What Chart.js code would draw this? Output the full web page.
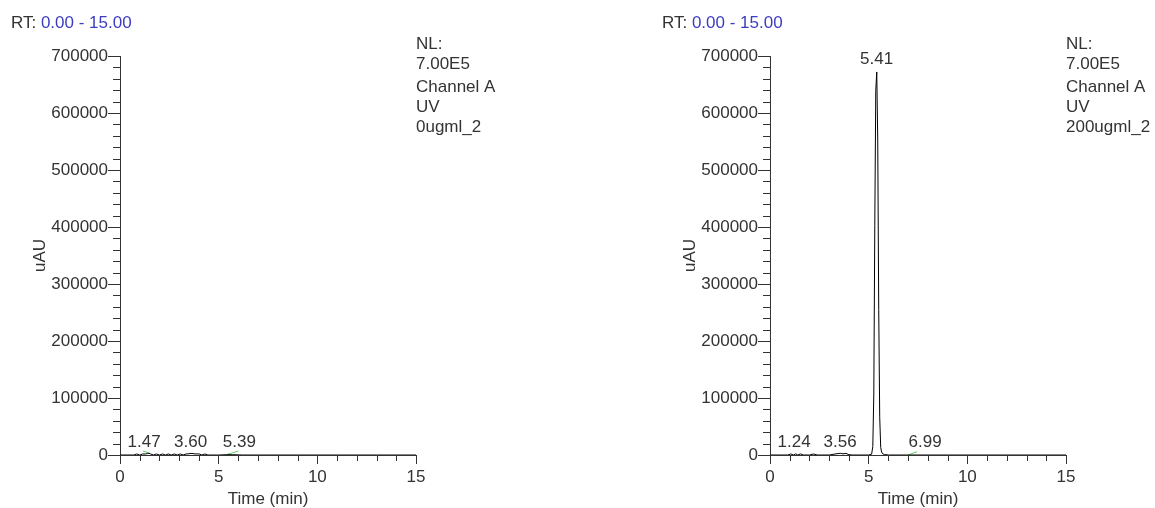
<!DOCTYPE html>
<html>
<head>
<meta charset="utf-8">
<script src="https://cdn.jsdelivr.net/npm/chart.js@4/dist/chart.umd.min.js"></script>
<style>
  html, body { margin: 0; padding: 0; background: #fff; overflow: hidden; }
  #wrap { position: relative; width: 1155px; height: 508px; }
  canvas { position: absolute; top: 0; }
  #c1 { left: 0; }
  #c2 { left: 650px; }
</style>
</head>
<body>
<div id="wrap">
  <canvas id="c1" width="505" height="508"></canvas>
  <canvas id="c2" width="505" height="508"></canvas>
</div>
<script>
// Osa X (čas, min) a osa Y (uAU)
const xTicks = [0, 5, 10, 15];
const yTicks = [0, 100000, 200000, 300000, 400000, 500000, 600000, 700000];
const xMinorStep = 1;
const yMinorStep = 20000;

// Vzorek 0ugml_2 - chromatogram
const time0 = [0, 0.7, 0.85, 1.0, 1.15, 1.3, 1.4, 1.47, 1.55, 1.7, 1.85, 2.0, 2.15, 2.3, 2.45, 2.6, 2.75, 2.9, 3.05, 3.2, 3.35, 3.5, 3.6, 3.7, 3.85, 4.0, 4.15, 4.3, 4.45, 4.6, 5.0, 5.39, 5.7, 6.2, 7, 9, 11, 13, 15];
const signal0 = [0, 0, 1800, 0, 1800, 1800, 2600, 3200, 1800, 0, 1800, 0, 1800, 0, 1800, 0, 1800, 0, 1800, 0, 1800, 2200, 2800, 2400, 1800, 2000, 0, 1800, 0, 0, 0, 500, 600, 0, 0, 0, 0, 0, 0];
// zelené základní linie integrace (null = přerušení)
const base0Time = [1.17, 1.5, null, 5.34, 6.0];
const base0Value = [7000, 3000, null, 0, 7000];
// popisky píků
const peaks0 = ['1.47', '3.60', '5.39'];
const peaks0LabelTime = [1.22, 3.58, 6.05];
const peaks0Apex = [0, 0, 0];
const info0 = ['NL:', '7.00E5', 'Channel A', 'UV', '0ugml_2'];

// Vzorek 200ugml_2 - chromatogram
const time200 = [0, 0.9, 1.05, 1.2, 1.3, 1.4, 1.55, 1.7, 2.0, 2.2, 2.4, 3.0, 3.3, 3.45, 3.56, 3.7, 3.85, 4.0, 4.2, 4.5, 5.0, 5.15, 5.21, 5.26, 5.31, 5.36, 5.41, 5.46, 5.51, 5.56, 5.61, 5.66, 5.71, 5.8, 6.0, 7.0, 9, 12, 15];
const signal200 = [0, 0, 1800, 0, 2000, 0, 1800, 0, 0, 1800, 0, 0, 1800, 2500, 3000, 2000, 2800, 500, 0, 0, 0, 1500, 15000, 107000, 403000, 640000, 672000, 551000, 255000, 67000, 13000, 5000, 2000, 800, 0, 0, 0, 0, 0];
const base200Time = [6.99, 7.45];
const base200Value = [0, 5800];
const peaks200 = ['1.24', '3.56', '5.41', '6.99'];
const peaks200LabelTime = [1.22, 3.55, 5.40, 7.86];
const peaks200Apex = [0, 0, 672000, 0];
const info200 = ['NL:', '7.00E5', 'Channel A', 'UV', '200ugml_2'];

const FONT = "'Liberation Sans', Arial, sans-serif";
const TEXT = '#333333';

function toPoints(xs, ys) {
    return xs.map((x, i) => (x === null ? { x: NaN, y: null } : { x: x, y: ys[i] }));
}

// Vlastní plugin: vedlejší značky os, popisky píků, hlavička RT a blok NL
const chromPlugin = {
    id: 'chrom',
    afterDraw(chart, args, opts) {
        const ctx = chart.ctx;
        const xs = chart.scales.x;
        const ys = chart.scales.y;
        const a = chart.chartArea;
        ctx.save();
        ctx.strokeStyle = TEXT;
        ctx.lineWidth = 1;
        ctx.beginPath();
        for (let t = xs.min; t <= xs.max; t += xMinorStep) {
            if (xTicks.includes(t)) continue;
            const px = Math.round(xs.getPixelForValue(t)) + 0.5;
            ctx.moveTo(px, a.bottom);
            ctx.lineTo(px, a.bottom + 6);
        }
        for (let v = ys.min; v <= ys.max; v += yMinorStep) {
            if (yTicks.includes(v)) continue;
            const py = Math.round(ys.getPixelForValue(v)) + 0.5;
            ctx.moveTo(a.left - 7, py);
            ctx.lineTo(a.left, py);
        }
        ctx.stroke();

        ctx.font = '17px ' + FONT;
        ctx.fillStyle = TEXT;
        ctx.textAlign = 'center';
        ctx.textBaseline = 'bottom';
        opts.peaks.forEach((name, i) => {
            const px = xs.getPixelForValue(opts.labelTime[i]);
            const py = ys.getPixelForValue(opts.apex[i]) - 4;
            ctx.fillText(name, px, py);
        });

        // RT hlavička
        ctx.textAlign = 'left';
        ctx.textBaseline = 'middle';
        ctx.fillStyle = TEXT;
        ctx.fillText('RT:', opts.rtX, 23);
        const w = ctx.measureText('RT: ').width;
        ctx.fillStyle = '#3c3cc0';
        ctx.fillText('0.00 - 15.00', opts.rtX + w, 23);

        // NL blok
        ctx.fillStyle = TEXT;
        const lineY = [44, 64, 87, 107, 127];
        opts.info.forEach((line, i) => ctx.fillText(line, a.right, lineY[i]));
        ctx.restore();
    }
};

function makeChart(id, time, signal, bTime, bValue, peaks, labelTime, apex, info, rtX) {
    const ctx = document.getElementById(id).getContext('2d');
    return new Chart(ctx, {
        type: 'line',
        data: {
            datasets: [
                {
                    data: toPoints(time, signal),
                    borderColor: '#000000',
                    borderWidth: 1,
                    pointRadius: 0,
                    tension: 0
                },
                {
                    data: toPoints(bTime, bValue),
                    borderColor: '#66c866',
                    borderWidth: 1,
                    pointRadius: 0,
                    spanGaps: false
                }
            ]
        },
        options: {
            responsive: false,
            animation: false,
            layout: { padding: { top: 56, right: 89, bottom: 0, left: 0 } },
            scales: {
                x: {
                    type: 'linear',
                    min: 0,
                    max: 15,
                    ticks: { stepSize: 5, padding: 3, color: TEXT, font: { family: FONT, size: 17 }, maxRotation: 0 },
                    grid: { display: true, drawOnChartArea: false, drawTicks: true, tickLength: 9, color: TEXT },
                    border: { display: true, color: TEXT },
                    title: { display: true, text: 'Time (min)', color: TEXT, font: { family: FONT, size: 17, lineHeight: 1.0 }, padding: 0 },
                    afterFit(scale) { scale.height = 53; }
                },
                y: {
                    type: 'linear',
                    min: 0,
                    max: 700000,
                    ticks: { stepSize: 100000, padding: 0, color: TEXT, font: { family: FONT, size: 17 }, callback: v => String(v) },
                    grid: { display: true, drawOnChartArea: false, drawTicks: true, tickLength: 12, color: TEXT },
                    border: { display: true, color: TEXT },
                    title: { display: true, text: 'uAU', color: TEXT, font: { family: FONT, size: 17, lineHeight: 1.2 }, padding: { top: 30, bottom: 0 } },
                    afterFit(scale) { scale.width = 120; }
                }
            },
            plugins: {
                legend: { display: false },
                tooltip: { enabled: false },
                chrom: { peaks: peaks, labelTime: labelTime, apex: apex, info: info, rtX: rtX }
            }
        },
        plugins: [chromPlugin]
    });
}

makeChart('c1', time0, signal0, base0Time, base0Value, peaks0, peaks0LabelTime, peaks0Apex, info0, 11);
makeChart('c2', time200, signal200, base200Time, base200Value, peaks200, peaks200LabelTime, peaks200Apex, info200, 12);
</script>
</body>
</html>
